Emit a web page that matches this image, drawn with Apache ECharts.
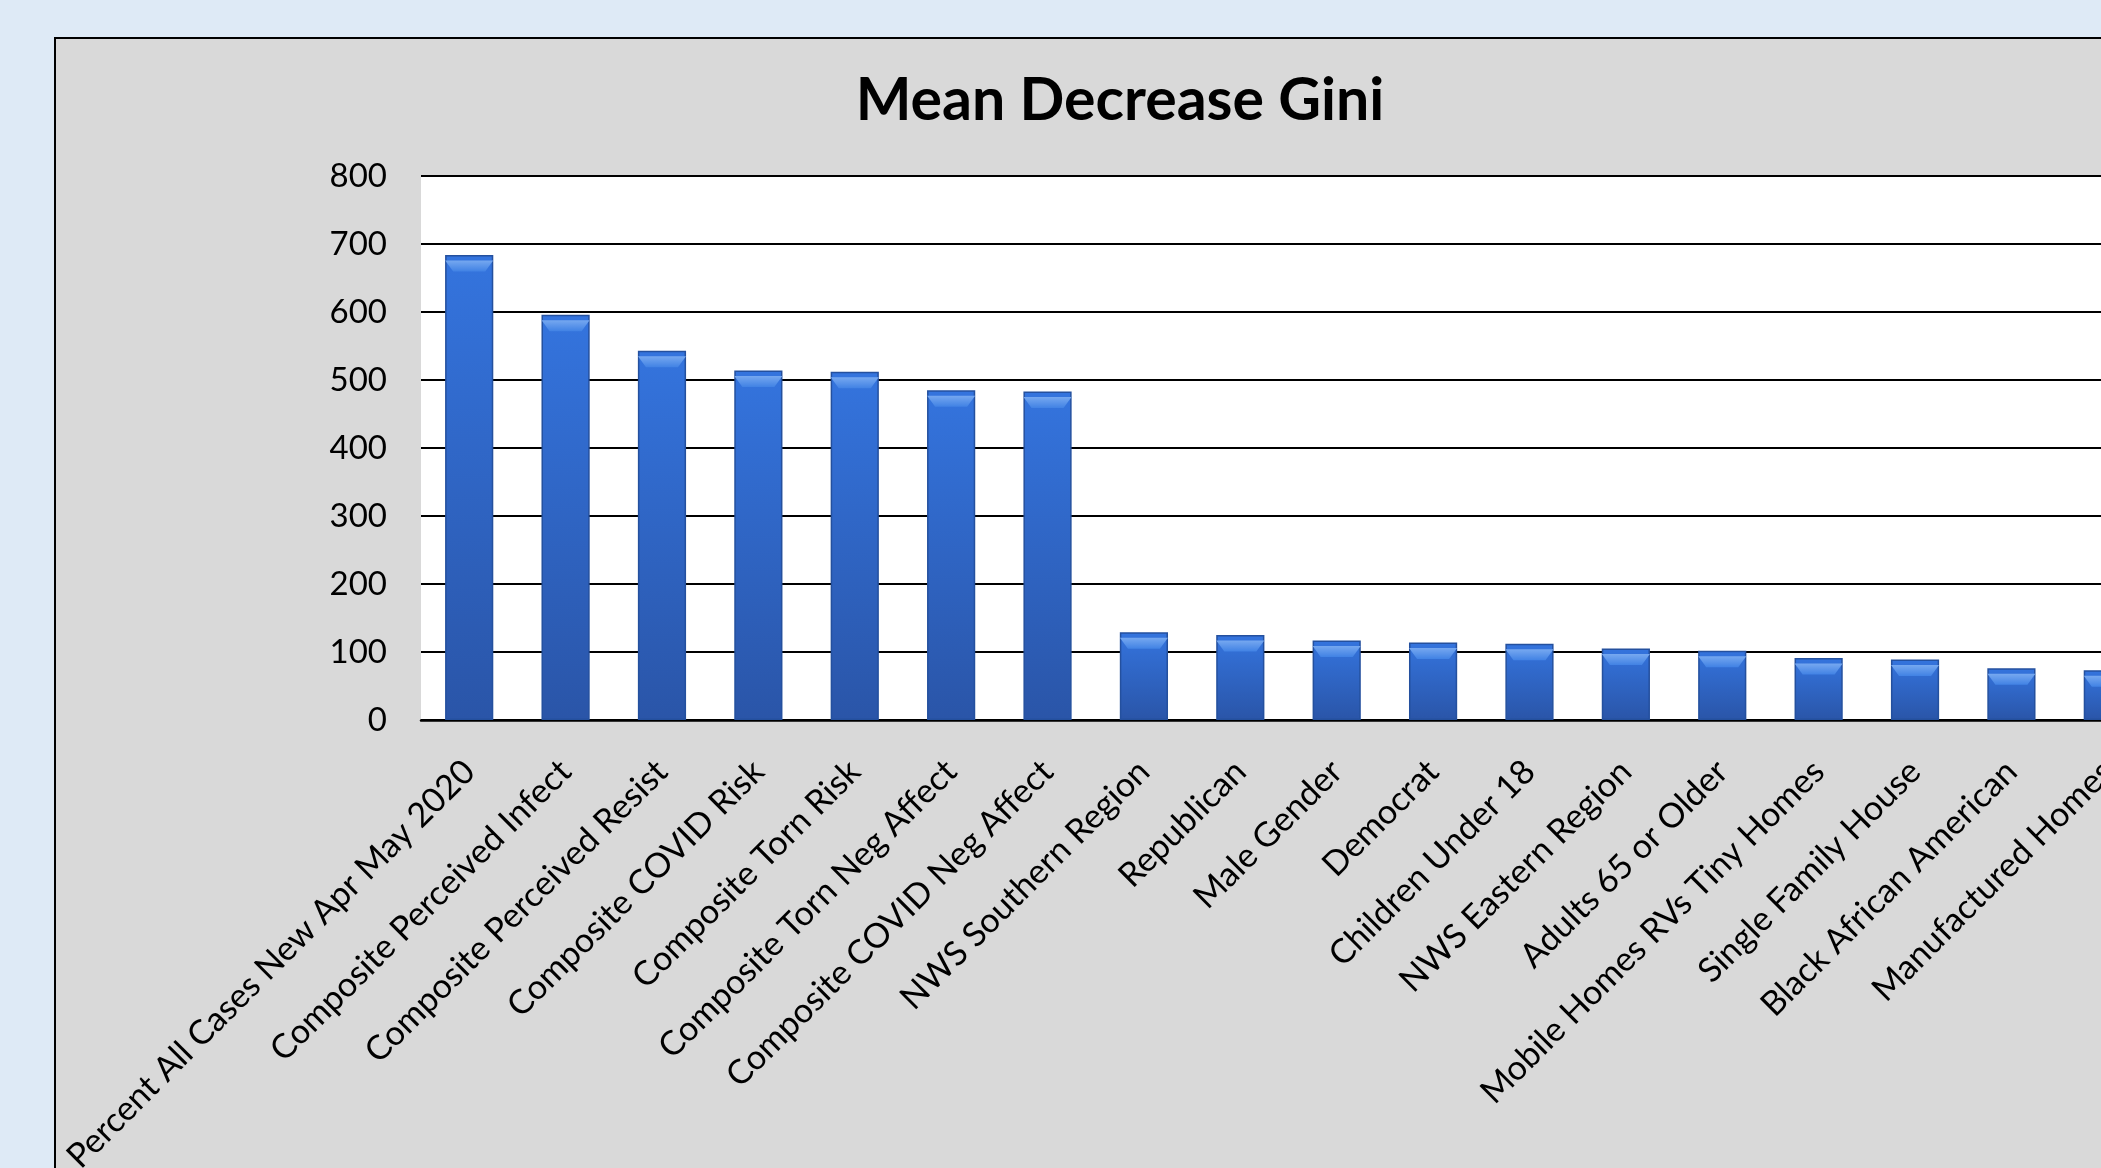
<!DOCTYPE html>
<html>
<head>
<meta charset="utf-8">
<title>Mean Decrease Gini</title>
<script src="https://cdn.jsdelivr.net/npm/echarts@6/dist/echarts.min.js"></script>
<style>
  html, body { margin: 0; padding: 0; width: 2101px; height: 1168px; overflow: hidden; background: #DEEAF6; }
  #frame { position: absolute; left: 54px; top: 37px; width: 2300px; height: 1300px; border: 2px solid #000; background: #D9D9D9; }
  #chart { width: 2300px; height: 1300px; }
</style>
</head>
<body>
<div id="frame"><div id="chart"></div></div>
<script>
// Variable importance from the random forest, sorted descending
const categories = [
  'Percent All Cases New Apr May 2020',
  'Composite Perceived Infect',
  'Composite Perceived Resist',
  'Composite COVID Risk',
  'Composite Torn Risk',
  'Composite Torn Neg Affect',
  'Composite COVID Neg Affect',
  'NWS Southern Region',
  'Republican',
  'Male Gender',
  'Democrat',
  'Children Under 18',
  'NWS Eastern Region',
  'Adults 65 or Older',
  'Mobile Homes RVs Tiny Homes',
  'Single Family House',
  'Black African American',
  'Manufactured Homes'
];
const giniValues = [684, 596, 543, 514, 512, 485, 483, 129, 125, 117, 114, 112, 105, 102, 91, 89, 76, 73];
const yTicks = { min: 0, max: 800, interval: 100 };
const chartTitle = 'Mean Decrease Gini';

const FONT = 'Lato, "Open Sans", sans-serif';
const chart = echarts.init(document.getElementById('chart'), null, { renderer: 'canvas' });

chart.setOption({
  animation: false,
  backgroundColor: '#D9D9D9',
  title: {
    text: chartTitle,
    left: 1059,
    top: 27,
    textAlign: 'center',
    textStyle: { fontFamily: FONT, fontWeight: 'bold', fontSize: 59, color: '#000' }
  },
  grid: {
    left: 365,
    top: 137,
    width: 1735,
    height: 544,
    show: true,
    backgroundColor: '#FFFFFF',
    borderWidth: 0
  },
  xAxis: {
    type: 'category',
    data: categories,
    axisLine: { show: true, lineStyle: { color: '#000', width: 2.5 } },
    axisTick: { show: false },
    axisLabel: {
      rotate: 45,
      interval: 0,
      margin: 46,
      fontFamily: FONT,
      fontSize: 34,
      color: '#000'
    }
  },
  yAxis: {
    type: 'value',
    min: yTicks.min,
    max: yTicks.max,
    interval: yTicks.interval,
    axisLine: { show: false },
    axisTick: { show: false },
    splitLine: { show: true, lineStyle: { color: '#000', width: 2 } },
    axisLabel: { margin: 34, fontFamily: FONT, fontSize: 33, color: '#000' }
  },
  series: [
    {
      type: 'bar',
      data: giniValues,
      barWidth: '50%',
      itemStyle: {
        color: new echarts.graphic.LinearGradient(0, 0, 0, 1, [
          { offset: 0, color: '#3474DE' },
          { offset: 1, color: '#2A55A8' }
        ]),
        borderColor: '#24509E',
        borderWidth: 1.5
      },
      z: 2
    },
    {
      // bevelled highlight on top of each bar
      type: 'pictorialBar',
      data: giniValues,
      symbol: 'path://M0,0 L48,0 L40,10 L8,10 Z',
      symbolSize: [48, 11],
      symbolPosition: 'end',
      symbolOffset: [0, '50%'],
      itemStyle: {
        color: new echarts.graphic.LinearGradient(0, 0, 0, 1, [
          { offset: 0, color: '#76A8F0' },
          { offset: 1, color: '#4182E4' }
        ])
      },
      silent: true,
      z: 3
    }
  ]
});
</script>
</body>
</html>
